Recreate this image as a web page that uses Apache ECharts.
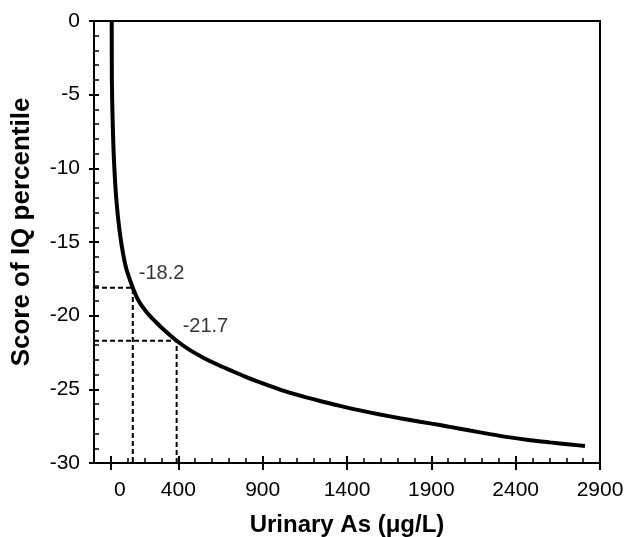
<!DOCTYPE html>
<html>
<head>
<meta charset="utf-8">
<script src="https://cdn.jsdelivr.net/npm/echarts@6/dist/echarts.min.js"></script>
<style>
html,body{margin:0;padding:0;background:#fff;}
#chart{width:627px;height:537px;}
</style>
</head>
<body>
<div id="chart"></div>
<script>
// ---- data ----
const xTickValues = [0, 400, 900, 1400, 1900, 2400, 2900];
const curveX = [5, 6, 10, 16, 23, 31, 45, 65, 90, 130, 165, 215, 262, 311, 390, 469, 548, 628, 707, 785, 865, 1003, 1122, 1240, 1359, 1477, 1596, 1714, 1833, 1951, 2011, 2129, 2248, 2366, 2485, 2603, 2722, 2811];
const curveY = [0, -4, -6.5, -8.8, -10.5, -11.9, -13.6, -15.3, -16.75, -18.1, -19.0, -19.8, -20.38, -20.92, -21.7, -22.34, -22.85, -23.3, -23.7, -24.08, -24.45, -25.02, -25.43, -25.79, -26.12, -26.43, -26.71, -26.96, -27.2, -27.42, -27.55, -27.8, -28.04, -28.26, -28.45, -28.6, -28.74, -28.85];
const refX = [130, 390];
const refY = [-18.1, -21.7];
const refLabels = ['-18.2', '-21.7'];
const xLabel = 'Urinary As (\u03bcg/L)';
const yLabel = 'Score of IQ percentile';

const FONT = 'Liberation Sans, Arial, Helvetica, sans-serif';
const X_MIN = -100, X_MAX = 2900, Y_MIN = -30, Y_MAX = 0;

const chart = echarts.init(document.getElementById('chart'), null, {renderer: 'canvas'});

const curveData = curveX.map((x, i) => [x, curveY[i]]);

const refSeries = refX.map((x, i) => ({
  type: 'line',
  data: [[X_MIN, refY[i]], [x, refY[i]], [x, Y_MIN]],
  symbol: 'none',
  silent: true,
  lineStyle: {color: '#000', width: 2, type: [5, 3]},
  z: 1
}));

const labelSeries = {
  type: 'scatter',
  data: refX.map((x, i) => ({value: [x, refY[i]], name: refLabels[i]})),
  symbolSize: 0,
  silent: true,
  label: {
    show: true,
    position: 'right',
    distance: 6,
    offset: [0, -14],
    formatter: p => p.name,
    color: '#000',
    fontFamily: FONT,
    fontSize: 20
  },
  z: 3
};

const option = {
  animation: false,
  backgroundColor: '#fff',
  grid: {
    left: 94, right: 27, top: 21, bottom: 74,
    containLabel: false, outerBoundsMode: 'none',
    show: true, borderColor: '#000', borderWidth: 2, backgroundColor: 'transparent'
  },
  xAxis: [
    {
      type: 'value', position: 'bottom',
      min: X_MIN, max: X_MAX, interval: 500,
      name: xLabel, nameLocation: 'middle', nameGap: 50,
      nameTextStyle: {fontFamily: FONT, fontSize: 24, fontWeight: 'bold', color: '#000'},
      axisLine: {show: true, onZero: false, lineStyle: {color: '#000', width: 2}},
      axisTick: {show: true, inside: true, length: 7, customValues: xTickValues, lineStyle: {color: '#000', width: 2}},
      minorTick: {show: true, splitNumber: 5, length: 5, lineStyle: {color: '#000', width: 1.5}},
      axisLabel: {
        customValues: xTickValues, margin: 17,
        fontFamily: FONT, fontSize: 21, color: '#000',
        formatter: v => v === 0 ? '{z|0}' : String(v),
        rich: {z: {fontFamily: FONT, fontSize: 21, color: '#000', padding: [0, 0, 0, 18]}}
      },
      splitLine: {show: false}
    },
    {
      type: 'value', position: 'bottom',
      min: X_MIN, max: X_MAX, interval: 500,
      axisLine: {show: false, onZero: false},
      axisTick: {show: true, inside: false, length: 7, customValues: xTickValues, lineStyle: {color: '#000', width: 2}},
      axisLabel: {show: false},
      splitLine: {show: false}
    }
  ],
  yAxis: [
    {
      type: 'value', position: 'left',
      min: Y_MIN, max: Y_MAX, interval: 5,
      name: yLabel, nameLocation: 'middle', nameGap: 59,
      nameTextStyle: {fontFamily: FONT, fontSize: 26, fontWeight: 'bold', color: '#000', padding: [0, 0, 0, 20]},
      axisLine: {show: true, onZero: false, lineStyle: {color: '#000', width: 2}},
      axisTick: {show: true, inside: true, length: 5, lineStyle: {color: '#000', width: 2}},
      minorTick: {show: true, splitNumber: 5, length: 5, lineStyle: {color: '#000', width: 1.5}},
      axisLabel: {margin: 14, fontFamily: FONT, fontSize: 21, color: '#000'},
      splitLine: {show: false}
    },
    {
      type: 'value', position: 'left',
      min: Y_MIN, max: Y_MAX, interval: 5,
      axisLine: {show: false, onZero: false},
      axisTick: {show: true, inside: false, length: 5, lineStyle: {color: '#000', width: 2}},
      axisLabel: {show: false},
      splitLine: {show: false}
    }
  ],
  series: [
    ...refSeries,
    {
      type: 'line',
      data: curveData,
      symbol: 'none',
      smooth: 0.3,
      silent: true,
      lineStyle: {color: '#000', width: 4},
      z: 2
    },
    labelSeries
  ]
};

chart.setOption(option);
</script>
</body>
</html>
